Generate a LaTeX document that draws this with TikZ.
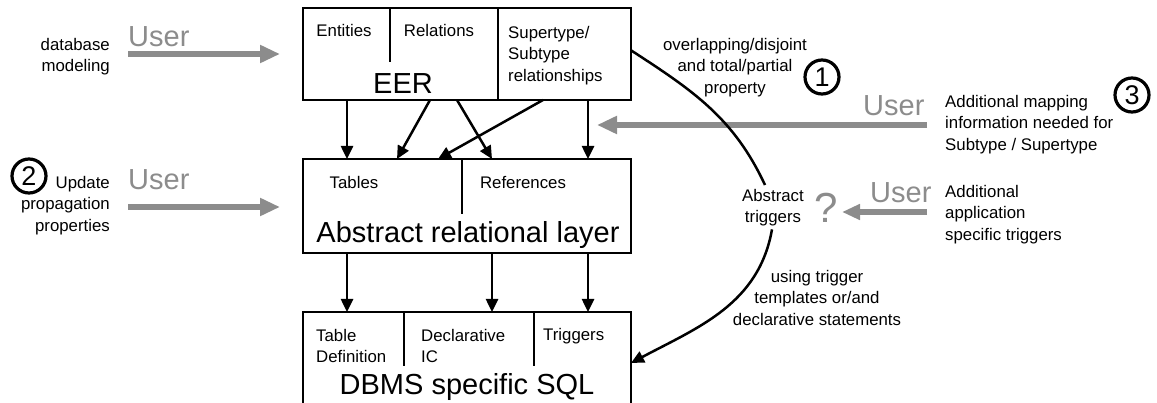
\documentclass[tikz,border=0pt]{standalone}
\usepackage{fontspec}
\setmainfont{Liberation Sans}
\usetikzlibrary{arrows.meta,calc}
\definecolor{usergray}{RGB}{140,140,140}
% zero-width strut fixing the height of a block's first line
\newcommand{\lnstrut}{\rule{0pt}{13pt}}

\begin{document}
\begin{tikzpicture}[x=1pt,y=-1pt,
  box/.style={draw, line width=2.8pt, inner sep=0pt, outer sep=0pt, anchor=north west},
  small/.style={font=\fontsize{16.8}{21.5}\selectfont, inner sep=0pt},
  big/.style={font=\fontsize{29}{34}\selectfont, inner sep=0pt},
  usr/.style={font=\fontsize{29}{34}\selectfont, text=usergray, inner sep=0pt, anchor=base west},
  flow/.style={line width=2.5pt, -{Triangle[length=13pt,width=12pt]}},
  uarrow/.style={usergray, line width=5.5pt, -{Triangle[length=20pt,width=17pt]}},
  uarrowsm/.style={usergray, line width=5.5pt, -{Triangle[length=18pt,width=15pt]}},
  divider/.style={line width=2.8pt},
  num/.style={circle, draw, line width=3.2pt, minimum size=34pt, inner sep=0pt,
              font=\fontsize{27}{27}\selectfont},
]
\useasboundingbox (0,0) rectangle (1157,403);

% ---- three layers ----
\node[box, minimum width=328pt, minimum height=92pt]  (eer)  at (303,8)   {};
\node[box, minimum width=328pt, minimum height=94pt]  (arl)  at (303,159) {};
\node[box, minimum width=328pt, minimum height=102pt] (dbms) at (303,312) {};

% EER cells
\draw[divider] ($(eer.north west)+(87,0)$) -- ($(eer.north west)+(87,54)$);
\draw[divider] ($(eer.north west)+(195,0)$) -- ($(eer.south west)+(195,0)$);
\node[small, anchor=base] (ent) at (344,37) {Entities};
\node[small, anchor=base] (rel) at (439,37) {Relations};
\node[small, anchor=north west, align=left] (sst) at (508,25)
  {\lnstrut Supertype/\\Subtype\\relationships};
\node[big, anchor=base] (eert) at (403,94) {EER};

% abstract relational layer cells
\draw[divider] ($(arl.north west)+(159,0)$) -- ($(arl.north west)+(159,55)$);
\node[small, anchor=base] (tab) at (354,189) {Tables};
\node[small, anchor=base] (refs) at (523,189) {References};
\node[big, anchor=base] (arlt) at (468,243) {Abstract relational layer};

% DBMS cells
\draw[divider] ($(dbms.north west)+(101,0)$) -- ($(dbms.north west)+(101,54)$);
\draw[divider] ($(dbms.north west)+(231,0)$) -- ($(dbms.north west)+(231,54)$);
\node[small, anchor=north west, align=left] (tdef) at (316,328) {\lnstrut Table\\Definition};
\node[small, anchor=north west, align=left] (dic) at (421,328) {\lnstrut Declarative\\IC};
\node[small, anchor=base west] (trg) at (543,341) {Triggers};
\node[big, anchor=base] (dbmst) at (467,395) {DBMS specific SQL};

% ---- mapping arrows between layers ----
\draw[flow] ($(eer.south west)+(44,0)$)  -- ($(arl.north west)+(44,0)$);
\draw[flow] ($(eer.south west)+(127,0)$) -- ($(arl.north west)+(94,0)$);
\draw[flow] ($(eer.south west)+(154,0)$) -- ($(arl.north west)+(189,0)$);
\draw[flow] ($(eer.south west)+(240,0)$) -- ($(arl.north west)+(135,0)$);
\draw[flow] ($(eer.south west)+(285,0)$) -- ($(arl.north west)+(285,0)$);
\draw[flow] ($(arl.south west)+(44,0)$)  -- ($(dbms.north west)+(44,0)$);
\draw[flow] ($(arl.south west)+(189,0)$) -- ($(dbms.north west)+(189,0)$);
\draw[flow] ($(arl.south west)+(285,0)$) -- ($(dbms.north west)+(285,0)$);

% ---- left: user input ----
\node[small, anchor=north east, align=right] (dbmod) at (110,37) {\lnstrut database\\modeling};
\node[usr] (user1) at (128,46.5) {User};
\coordinate (u1s) at (128,54);
\coordinate (u1e) at (280,54);
\draw[uarrow] (u1s) -- (u1e);

\node[num] (n2) at (29,176) {2};
\node[small, anchor=north east, align=right] (upd) at (110,175)
  {\lnstrut Update\\propagation\\properties};
\node[usr] (user2) at (128,190) {User};
\coordinate (u2s) at (128,207);
\coordinate (u2e) at (280,207);
\draw[uarrow] (u2s) -- (u2e);

% ---- right: subtype mapping and triggers ----
\node[small, anchor=north, align=center] (ovl) at (735,37)
  {\lnstrut overlapping/disjoint\\and total/partial\\property};
\node[num] (n1) at (822,77) {1};

\node[usr] (user3) at (863,116) {User};
\coordinate (u3s) at (927,125);
\coordinate (u3e) at (597,125);
\draw[uarrow] (u3s) -- (u3e);
\node[small, anchor=north west, align=left] (addmap) at (945,94)
  {\lnstrut Additional mapping\\information needed for\\Subtype / Supertype};
\node[num] (n3) at (1132,95) {3};

\node[small, anchor=north, align=center] (trig) at (773,188) {\lnstrut Abstract\\triggers};
\node[font=\fontsize{42}{42}\selectfont, text=usergray, inner sep=0pt, anchor=base] (qm) at (826,223) {?};
\node[usr] (user4) at (870,203) {User};
\coordinate (u4s) at (927,212);
\coordinate (u4e) at (842,212);
\draw[uarrowsm] (u4s) -- (u4e);
\node[small, anchor=north west, align=left] (addtrg) at (945,184)
  {\lnstrut Additional\\application\\specific triggers};

\node[small, anchor=north, align=center] (usetr) at (817,269)
  {\lnstrut using trigger\\templates or/and\\declarative statements};

% arc from the subtype cell through the abstract triggers down to SQL
\coordinate (ssub) at ($(eer.north east)!0.46!(eer.south east)$);
\draw[line width=2.5pt] (ssub) to[out=-33, in=115] ($(trig.north)+(-8,-3)$);
\draw[flow] ($(trig.south)+(-1,3)$) to[out=-100, in=28] (dbms.east);
\end{tikzpicture}
\end{document}
